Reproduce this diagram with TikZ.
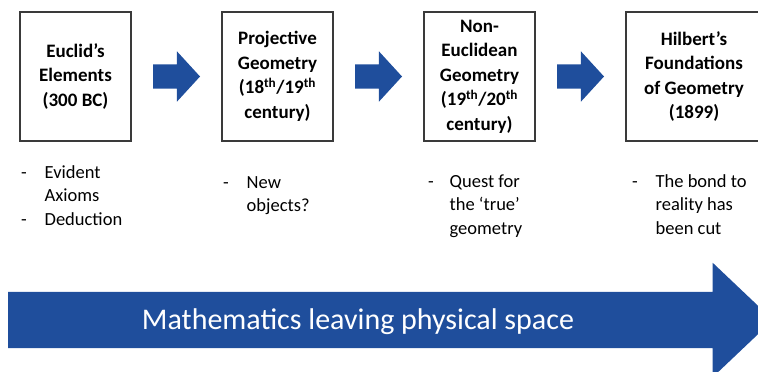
\documentclass[tikz,border=0pt]{standalone}
\usepackage{fontspec}
\setmainfont{Carlito}
\usetikzlibrary{positioning}
\usetikzlibrary{shapes.arrows}
\usepackage{xcolor}
\definecolor{shiftblue}{HTML}{1F4E9C}
\definecolor{framegrey}{HTML}{3A3A3A}

\begin{document}
\begin{tikzpicture}[
  x=1pt, y=1pt,
  node distance=91pt,
  era/.style={rectangle, draw=framegrey, line width=1.4pt, fill=white,
    minimum width=111pt, minimum height=129pt, inner sep=2pt, outer sep=0pt,
    align=center, font=\fontsize{19}{24.5}\selectfont\bfseries},
  goes/.style={single arrow, fill=shiftblue, draw=none,
    inner sep=0pt, outer sep=0pt, text height=24pt, text depth=0pt,
    minimum height=47pt, single arrow head extend=13pt,
    single arrow tip angle=95},
  notes/.style={inner sep=0pt, outer sep=0pt,
    font=\fontsize{18.5}{23.5}\selectfont},
  bigarrow/.style={single arrow, fill=shiftblue, draw=none,
    inner sep=0pt, outer sep=0pt, text height=56pt, text depth=0pt,
    minimum height=765pt, single arrow head extend=29pt,
    single arrow tip angle=87},
  banner/.style={text=white, inner sep=0pt, font=\fontsize{30}{36}\selectfont},
]
\useasboundingbox (0,0) rectangle (758,372);
\clip (0,0) rectangle (758,372);

% === Boxes: the four stages ===
\node[era] at (75.5,295.5) (euclid) {Euclid’s\\Elements\\(300 BC)};
\node[era, right=of euclid] (projective)
  {Projective\\Geometry\\(18\textsuperscript{th}/19\textsuperscript{th}\\century)};
\node[era, right=of projective] (noneuclid)
  {Non-\\Euclidean\\Geometry\\(19\textsuperscript{th}/20\textsuperscript{th}\\century)};
\node[era, right=of noneuclid, minimum width=136pt] (hilbert)
  {Hilbert’s\\Foundations\\of Geometry\\(1899)};

% === Block arrows between the boxes ===
\node[goes, right=22pt of euclid] (go1) {};
\node[goes, right=22pt of projective] (go2) {};
\node[goes, right=22pt of noneuclid] (go3) {};

% === Notes below each box ===
\node[notes, below right=21pt and 1pt of euclid.south west] (euclid_notes) {%
  \begin{tabular}{@{}l@{\hspace{18pt}}l@{}}
  - & Evident\\
    & Axioms\\
  - & Deduction
  \end{tabular}};
\node[notes, below right=31pt and 1pt of projective.south west] (projective_notes) {%
  \begin{tabular}{@{}l@{\hspace{18pt}}l@{}}
  - & New\\
    & objects?
  \end{tabular}};
\node[notes, below right=30pt and 4pt of noneuclid.south west] (noneuclid_notes) {%
  \begin{tabular}{@{}l@{\hspace{16pt}}l@{}}
  - & Quest for\\
    & the ‘true’\\
    & geometry
  \end{tabular}};
\node[notes, below right=30pt and 6pt of hilbert.south west] (hilbert_notes) {%
  \begin{tabular}{@{}l@{\hspace{18pt}}l@{}}
  - & The bond to\\
    & reality has\\
    & been cut
  \end{tabular}};

% === Big arrow along the bottom ===
\node[bigarrow, anchor=tail] at (8,52) (leaving) {};
\node[banner, anchor=base] at ([xshift=350pt, yshift=-10pt]leaving.tail) (leaving_text)
  {Mathematics leaving physical space};

\end{tikzpicture}
\end{document}
